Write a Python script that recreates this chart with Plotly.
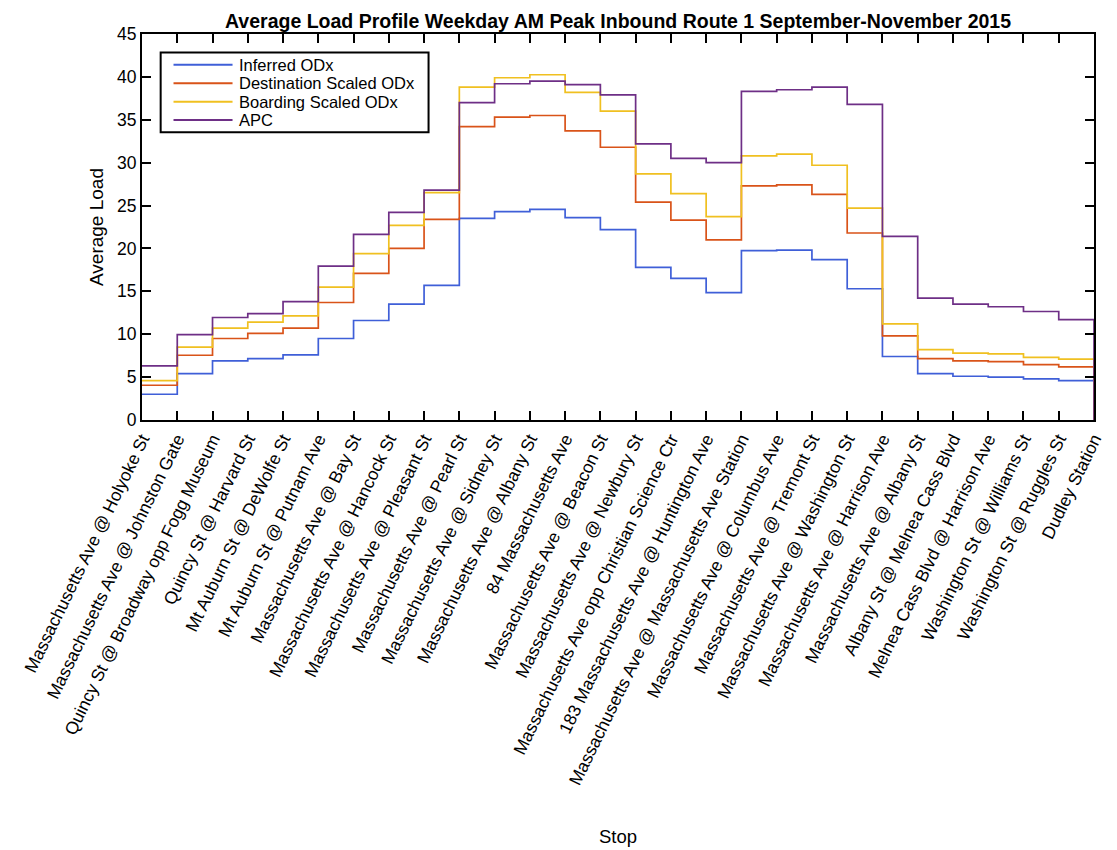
import plotly.graph_objects as go

stops = [
    "Massachusetts Ave @ Holyoke St",
    "Massachusetts Ave @ Johnston Gate",
    "Quincy St @ Broadway opp Fogg Museum",
    "Quincy St @ Harvard St",
    "Mt Auburn St @ DeWolfe St",
    "Mt Auburn St @ Putnam Ave",
    "Massachusetts Ave @ Bay St",
    "Massachusetts Ave @ Hancock St",
    "Massachusetts Ave @ Pleasant St",
    "Massachusetts Ave @ Pearl St",
    "Massachusetts Ave @ Sidney St",
    "Massachusetts Ave @ Albany St",
    "84 Massachusetts Ave",
    "Massachusetts Ave @ Beacon St",
    "Massachusetts Ave @ Newbury St",
    "Massachusetts Ave opp Christian Science Ctr",
    "183 Massachusetts Ave @ Huntington Ave",
    "Massachusetts Ave @ Massachusetts Ave Station",
    "Massachusetts Ave @ Columbus Ave",
    "Massachusetts Ave @ Tremont St",
    "Massachusetts Ave @ Washington St",
    "Massachusetts Ave @ Harrison Ave",
    "Massachusetts Ave @ Albany St",
    "Albany St @ Melnea Cass Blvd",
    "Melnea Cass Blvd @ Harrison Ave",
    "Washington St @ Williams St",
    "Washington St @ Ruggles St",
    "Dudley Station",
]

inferred_odx = [3.0, 5.4, 6.9, 7.15, 7.6, 9.5, 11.6, 13.5, 15.7, 23.5, 24.3, 24.55, 23.6, 22.2,
                17.8, 16.5, 14.85, 19.75, 19.8, 18.7, 15.3, 7.4, 5.4, 5.1, 5.0, 4.8, 4.6, 0]
dest_scaled = [4.05, 7.55, 9.5, 10.1, 10.7, 13.7, 17.1, 20.0, 23.4, 34.2, 35.3, 35.5, 33.7, 31.8,
               25.4, 23.3, 21.0, 27.3, 27.4, 26.3, 21.8, 9.8, 7.15, 6.9, 6.8, 6.45, 6.2, 0]
board_scaled = [4.6, 8.5, 10.7, 11.4, 12.15, 15.5, 19.4, 22.7, 26.5, 38.8, 39.9, 40.25, 38.2, 36.0,
                28.7, 26.4, 23.7, 30.8, 31.0, 29.7, 24.7, 11.2, 8.2, 7.8, 7.7, 7.3, 7.1, 0]
apc = [6.3, 9.95, 11.95, 12.4, 13.8, 17.95, 21.65, 24.2, 26.8, 37.0, 39.2, 39.5, 39.1, 37.9,
       32.2, 30.5, 30.0, 38.3, 38.5, 38.8, 36.8, 21.4, 14.2, 13.5, 13.2, 12.65, 11.7, 0]

series_names = ["Inferred ODx", "Destination Scaled ODx", "Boarding Scaled ODx", "APC"]
series_values = [inferred_odx, dest_scaled, board_scaled, apc]
series_colors = ["#3f5fd8", "#d95319", "#f0c020", "#6e2f86"]

x = list(range(1, len(stops) + 1))
font_family = "Liberation Sans, Arial, sans-serif"

fig = go.Figure()
for name, vals, color in zip(series_names, series_values, series_colors):
    fig.add_trace(go.Scatter(
        x=x, y=vals, mode="lines", name=name,
        line=dict(color=color, width=1.7, shape="hv"),
        showlegend=False,
    ))

# custom legend box (paper coordinates of the plot area)
shapes = [dict(type="rect", xref="paper", yref="paper",
               x0=0.0196, x1=0.301, y0=0.7455, y1=0.9522,
               line=dict(color="black", width=2), fillcolor="white", layer="above")]
annotations = []
row_y = [0.9204, 0.8726, 0.8248, 0.7770]
for name, color, yy in zip(series_names, series_colors, row_y):
    shapes.append(dict(type="line", xref="paper", yref="paper",
                       x0=0.0331, x1=0.0951, y0=yy, y1=yy,
                       line=dict(color=color, width=2), layer="above"))
    annotations.append(dict(text=name, xref="paper", yref="paper",
                            x=0.1003, y=yy, xanchor="left", yanchor="middle",
                            showarrow=False,
                            font=dict(size=16.5, family=font_family, color="black")))

annotations.append(dict(
    text="Stop", xref="paper", yref="paper",
    x=0.5, y=-(838 - 420.5) / 387, xanchor="center", yanchor="middle",
    showarrow=False, font=dict(size=18.5, family=font_family, color="black"),
))

# title as an annotation just above the plot area
annotations.append(dict(
    text="<b>Average Load Profile Weekday AM Peak Inbound Route 1 September-November 2015</b>",
    xref="paper", yref="paper", x=0.5, y=(420.5 - 20.5) / 387,
    xanchor="center", yanchor="middle", showarrow=False,
    font=dict(size=19.5, family=font_family, color="black"),
))

W, H = 1109, 842
fig.update_layout(
    width=W, height=H,
    margin=dict(l=128, r=14, t=25.5, b=429.5),
    paper_bgcolor="white", plot_bgcolor="white",
    font=dict(family=font_family, color="black", size=15),
    showlegend=False,
    shapes=shapes,
    annotations=annotations,
)

fig.update_xaxes(
    range=[1, len(stops)],
    tickmode="array", tickvals=x, ticktext=stops,
    tickangle=-64, ticks="inside", ticklen=9, tickwidth=1.5, tickcolor="black",
    showline=True, linecolor="black", linewidth=2, mirror="ticks",
    showgrid=False, zeroline=False,
    tickfont=dict(size=17.5, family=font_family, color="black"),
)
fig.update_yaxes(
    range=[0, 45], dtick=5, tick0=0,
    ticks="inside", ticklen=9, tickwidth=1.5, tickcolor="black",
    showline=True, linecolor="black", linewidth=2, mirror="ticks",
    showgrid=False, zeroline=False,
    tickfont=dict(size=17.5, family=font_family, color="black"),
    title=dict(text="Average Load", font=dict(size=19, family=font_family, color="black"), standoff=8),
)

fig.write_html("out.html")
